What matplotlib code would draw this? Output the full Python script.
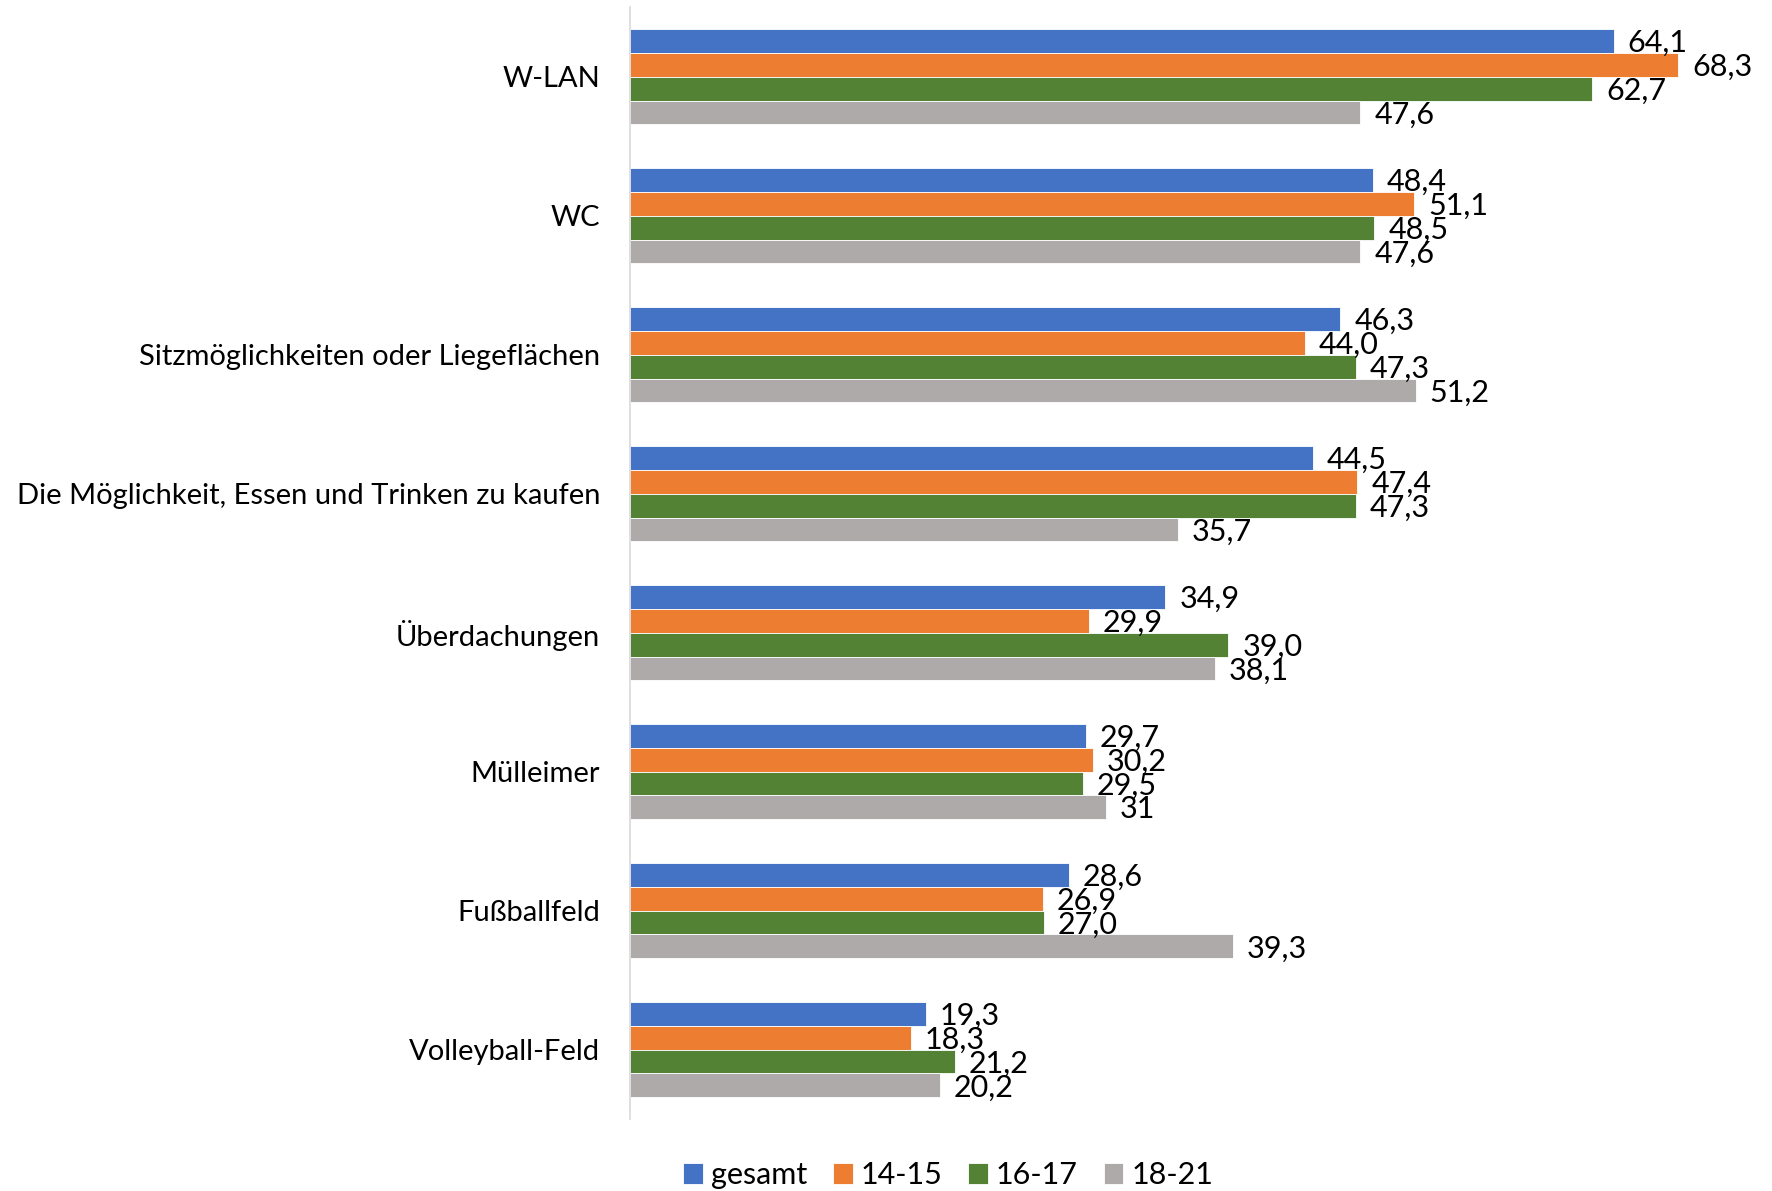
import matplotlib.pyplot as plt
import numpy as np

plt.rcParams['font.family'] = ['Lato', 'DejaVu Sans']

categories = ['W-LAN', 'WC', 'Sitzmöglichkeiten oder Liegeflächen',
              'Die Möglichkeit, Essen und Trinken zu kaufen', 'Überdachungen',
              'Mülleimer', 'Fußballfeld', 'Volleyball-Feld']
series_names = ['gesamt', '14-15', '16-17', '18-21']
gesamt = [64.1, 48.4, 46.3, 44.5, 34.9, 29.7, 28.6, 19.3]
age_14_15 = [68.3, 51.1, 44.0, 47.4, 29.9, 30.2, 26.9, 18.3]
age_16_17 = [62.7, 48.5, 47.3, 47.3, 39.0, 29.5, 27.0, 21.2]
age_18_21 = [47.6, 47.6, 51.2, 35.7, 38.1, 31, 39.3, 20.2]
colors = ['#4472C4', '#ED7D31', '#548235', '#AEAAAA']


def fmt(v):
    # the source shows "31" without decimals, keep it that way
    if isinstance(v, int):
        return str(v)
    return f'{v:.1f}'.replace('.', ',')


fig = plt.figure(figsize=(17.72, 11.91), dpi=100)
ax = fig.add_axes([629.5 / 1772, 1 - 1119.2 / 1191, 1142.5 / 1772, (1119.2 - 7.3) / 1191])

y = np.arange(len(categories))
h = 0.171
all_series = [gesamt, age_14_15, age_16_17, age_18_21]
for i, (vals, name, c) in enumerate(zip(all_series, series_names, colors)):
    pos = y + (i - 1.5) * h
    ax.barh(pos, vals, height=h, color=c, label=name, edgecolor='white', linewidth=0.6)
    for p, v in zip(pos, vals):
        ax.annotate(fmt(v), (v, p), xytext=(10, -1.5), textcoords='offset points',
                    va='center', ha='left', fontsize=22, annotation_clip=False)

ax.set_xlim(0, 74.4)
ax.set_ylim(len(categories) - 0.5, -0.5)
ax.set_yticks(y)
ax.set_yticklabels(categories, fontsize=21)
ax.tick_params(axis='y', length=0, pad=21)
ax.set_xticks([])
for s in ['top', 'right', 'bottom']:
    ax.spines[s].set_visible(False)
ax.spines['left'].set_color('#D9D9D9')
ax.spines['left'].set_linewidth(1.2)

fig.legend(loc='center', bbox_to_anchor=(0.535, 0.0134), ncol=4, frameon=False,
           fontsize=22, handlelength=0.65, handleheight=0.65, handletextpad=0.25,
           columnspacing=0.85)

fig.savefig('out.png', dpi=100)
